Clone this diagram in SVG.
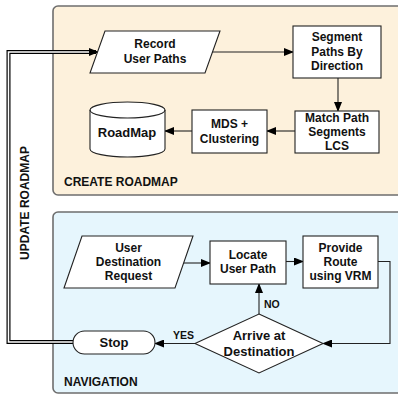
<svg xmlns="http://www.w3.org/2000/svg" width="398" height="396" viewBox="0 0 398 396">
<defs>
<marker id="ah" markerWidth="10" markerHeight="8" refX="9" refY="4" orient="auto" markerUnits="userSpaceOnUse">
<path d="M0,0 L10,4 L0,8 z" fill="#000"/>
</marker>
<style>
.panel{stroke:#6e6e6e;stroke-width:1.6}
.node{fill:#fff;stroke:#222;stroke-width:1.1}
.t{font-family:"Liberation Sans",Arial,sans-serif;font-weight:bold;font-size:12px;fill:#111;text-anchor:middle}
.t13{font-size:13px}
.lbl{font-family:"Liberation Sans",Arial,sans-serif;font-weight:bold;font-size:12px;fill:#111}
.small{font-family:"Liberation Sans",Arial,sans-serif;font-weight:bold;font-size:10.5px;fill:#111}
.c{fill:none;stroke:#222;stroke-width:1.1}
</style>
</defs>
<rect width="398" height="396" fill="#fff"/>
<g id="panel-create">
<rect class="panel" x="53" y="6" width="360" height="189" rx="5" fill="#fdf1dc"/>
<text class="lbl" x="64" y="185.5">CREATE ROADMAP</text>
</g>
<g id="panel-nav">
<rect class="panel" x="53" y="212" width="360" height="181" rx="5" fill="#e6f6fd"/>
<text class="lbl" x="64" y="386">NAVIGATION</text>
</g>
<g id="update-label">
<text class="lbl" transform="translate(29,203) rotate(-90)" text-anchor="middle">UPDATE ROADMAP</text>
</g>
<g id="connectors">
<path d="M73,342 H8.5 V52 H96" fill="none" stroke="#000" stroke-width="4"/>
<path d="M73,342 H8.5 V52 H96" fill="none" stroke="#fff" stroke-width="1.6"/>
<path d="M94,52 H98" class="c" marker-end="url(#ah)"/>
<path d="M205,52 H293" class="c" marker-end="url(#ah)"/>
<path d="M338,78 V111" class="c" marker-end="url(#ah)"/>
<path d="M295,131 H267" class="c" marker-end="url(#ah)"/>
<path d="M192,131 H165" class="c" marker-end="url(#ah)"/>
<path d="M184,263 H210" class="c" marker-end="url(#ah)"/>
<path d="M286,261.5 H303" class="c" marker-end="url(#ah)"/>
<path d="M378,261.5 H390 V343.5 H323" class="c" marker-end="url(#ah)"/>
<path d="M259,314 V284" class="c" marker-end="url(#ah)"/>
<path d="M195,343.5 H155" class="c" marker-end="url(#ah)"/>
<text class="small" x="264" y="308">NO</text>
<text class="small" x="173" y="339">YES</text>
</g>
<g id="record">
<polygon class="node" points="105,31 220,31 205,73 90,73"/>
<text class="t" x="155" y="48">Record</text>
<text class="t" x="155" y="63">User Paths</text>
</g>
<g id="segment">
<rect class="node" x="293" y="26" width="88" height="52"/>
<text class="t" x="337" y="41">Segment</text>
<text class="t" x="337" y="56">Paths By</text>
<text class="t" x="337" y="70">Direction</text>
</g>
<g id="match">
<rect class="node" x="295" y="111" width="84" height="42"/>
<text class="t" x="337" y="121.5">Match Path</text>
<text class="t" x="337" y="136">Segments</text>
<text class="t" x="337" y="150">LCS</text>
</g>
<g id="mds">
<rect class="node" x="192" y="110" width="75" height="43"/>
<text class="t" x="229.5" y="128">MDS +</text>
<text class="t" x="229.5" y="143">Clustering</text>
</g>
<g id="roadmap">
<path class="node" d="M90,110 V149 A37.5,8 0 0 0 165,149 V110 A37.5,8 0 0 0 90,110 Z"/>
<path class="c" d="M90,110 A37.5,8 0 0 0 165,110"/>
<text class="t t13" x="127" y="137">RoadMap</text>
</g>
<g id="request">
<polygon class="node" points="82,236 193,236 175,288 64,288"/>
<text class="t" x="128.5" y="252">User</text>
<text class="t" x="128.5" y="266">Destination</text>
<text class="t" x="128.5" y="280">Request</text>
</g>
<g id="locate">
<rect class="node" x="210" y="241" width="76" height="43"/>
<text class="t" x="248" y="259">Locate</text>
<text class="t" x="248" y="273">User Path</text>
</g>
<g id="provide">
<rect class="node" x="303" y="236" width="75" height="52"/>
<text class="t" x="340.5" y="252">Provide</text>
<text class="t" x="340.5" y="266">Route</text>
<text class="t" x="340.5" y="280">using VRM</text>
</g>
<g id="arrive">
<polygon class="node" points="259,314 323,343.5 259,373 195,343.5"/>
<text class="t t13" x="259" y="339.5">Arrive at</text>
<text class="t t13" x="259" y="355.5">Destination</text>
</g>
<g id="stop">
<rect class="node" x="73" y="331" width="82" height="23" rx="11.5"/>
<text class="t t13" x="114" y="347">Stop</text>
</g>
</svg>
